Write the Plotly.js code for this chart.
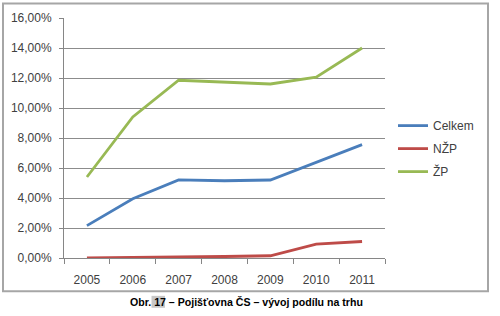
<!DOCTYPE html>
<html>
<head>
<meta charset="utf-8">
<script src="https://cdn.plot.ly/plotly-3.0.1.min.js"></script>
<style>html,body{margin:0;padding:0;background:#fff;}#chart{width:500px;height:316px;}</style>
</head>
<body>
<div id="chart"></div>
<script>
const years = ["2005","2006","2007","2008","2009","2010","2011"];
const celkem = [2.16, 3.95, 5.21, 5.15, 5.20, 6.40, 7.56];
const nzp = [0.00, 0.02, 0.05, 0.10, 0.15, 0.93, 1.10];
const zp = [5.40, 9.40, 11.85, 11.70, 11.60, 12.05, 14.00];
const seriesNames = ["Celkem", "NŽP", "ŽP"];
const colors = ["#4a7ebb", "#be4b48", "#98b954"];
const seriesData = [celkem, nzp, zp];

const traces = seriesData.map((vals, i) => ({
  type: "scatter", mode: "lines", x: years, y: vals, name: seriesNames[i],
  legendgroup: "g" + i,
  line: {color: colors[i], width: 2.8}
}));

// pixel helpers for plot area: x 64..385, y 17.5..258.5
const L = 64, R = 385, T = 17.5, B = 258.5;
const px = v => (v - L) / (R - L);
const py = v => (B - v) / (B - T);

const capFont = {family: "Liberation Sans, Arial, sans-serif", size: 10.6, color: "#000"};
const layout = {
  width: 500, height: 316,
  margin: {l: L, r: 500 - R, t: T, b: 316 - B},
  paper_bgcolor: "#fff", plot_bgcolor: "#fff",
  separators: ", ",
  font: {family: "Liberation Sans, Arial, sans-serif", size: 12, color: "#404040"},
  xaxis: {
    type: "category", range: [-0.5, 6.5], tickson: "boundaries",
    ticks: "outside", ticklen: 5, tickcolor: "#868686", ticklabelstandoff: 11,
    showgrid: false, showline: true, linecolor: "#868686", linewidth: 1,
    tickfont: {size: 12, color: "#404040"}, fixedrange: true
  },
  yaxis: {
    range: [0, 16], dtick: 2, tickformat: ".2f", ticksuffix: "%",
    ticks: "outside", ticklen: 4, tickcolor: "#868686", ticklabelstandoff: 5,
    showgrid: true, gridcolor: "#8c8c8c", gridwidth: 1,
    showline: true, linecolor: "#868686", linewidth: 1, zeroline: false,
    tickfont: {size: 12, color: "#404040"}, fixedrange: true
  },
  showlegend: true,
  legend: {
    x: px(393), xanchor: "left", y: py(111), yanchor: "top",
    font: {size: 12, color: "#404040"}, tracegroupgap: 4,
    bgcolor: "rgba(0,0,0,0)", itemwidth: 30
  },
  shapes: [
    {type: "rect", xref: "paper", yref: "paper", x0: px(3), x1: px(488), y0: py(292), y1: py(3),
     line: {color: "#a6a6a6", width: 2}, layer: "below"},
    {type: "rect", xref: "paper", yref: "paper", x0: px(151.5), x1: px(165), y0: py(308.5), y1: py(296.5),
     line: {width: 0}, fillcolor: "#c8c8c8", layer: "below"}
  ],
  annotations: [
    {xref: "paper", yref: "paper", x: px(128), y: py(302.5), xanchor: "left", yanchor: "middle",
     showarrow: false, text: "<b>Obr. 17 – Pojišťovna ČS – vývoj podílu na trhu</b>", font: capFont}
  ]
};

Plotly.newPlot("chart", traces, layout, {staticPlot: true, displayModeBar: false});
</script>
</body>
</html>
